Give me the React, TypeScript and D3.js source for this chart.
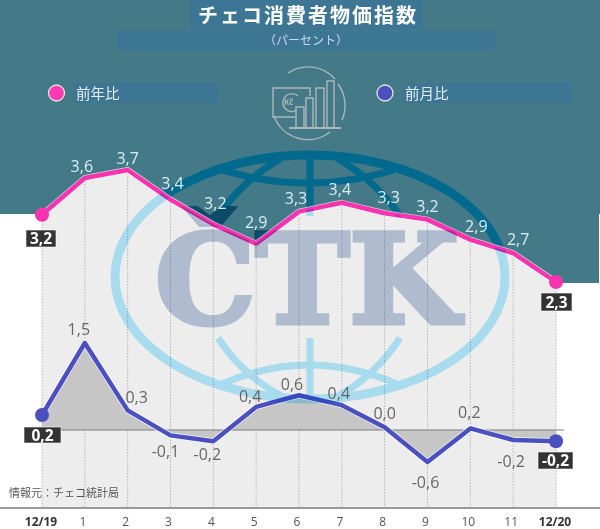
import React from "react";
import * as d3 from "d3";

const W = 600;
const H = 529;

// Months along the axis
const months = ["12/19", "1", "2", "3", "4", "5", "6", "7", "8", "9", "10", "11", "12/20"];

// Year on year: printed labels and the heights
const yoyLabels = ["3,2", "3,6", "3,7", "3,4", "3,2", "2,9", "3,3", "3,4", "3,3", "3,2", "2,9", "2,7", "2,3"];
const yoyValues = [3.14, 3.6, 3.7, 3.33, 3.02, 2.78, 3.18, 3.29, 3.16, 3.08, 2.83, 2.66, 2.3];

// Month on month
const momLabels = ["0,2", "1,5", "0,3", "-0,1", "-0,2", "0,4", "0,6", "0,4", "0,0", "-0,6", "0,2", "-0,2", "-0,2"];
const momValues = [0.26, 1.5, 0.34, -0.09, -0.19, 0.4, 0.6, 0.43, 0.05, -0.55, 0.03, -0.17, -0.19];

// Label nudges relative to the point (pixels)
const yoyLabelDx = [0, -3, 0, 2, 2, 0, -3, -2, 4, 0, 6, 5, 0];
const yoyLabelDy = [0, -6, -6, -11, -15, -16, -8, -8, -10, -8, -8, -8, 0];
const momLabelDx = [0, -6, 9, -5, -6, -6, -7, -3, 0, -2, -1, -2, 0];
const momLabelDy = [0, -8, -7, 22, 19, -5, -5, -6, -8, 26, -10, 27, 0];

const TEAL = "#447a88";
const BLOCK = "#3d7694";
const PLOT = "#ededed";
const PINK = "#f932b0";
const BLUE = "#4a50c0";
const SANS = "'Open Sans', sans-serif";
const CJK = "'Noto Sans CJK JP', sans-serif";

const x = d3.scalePoint<string>().domain(months).range([42, 556]);
const yTop = d3.scaleLinear().domain([2.3, 3.7]).range([282, 170]);
const yBottom = d3.scaleLinear().domain([-0.6, 1.5]).range([465, 343]);
const AXIS_Y = 508;
const ZERO_Y = 430;

const yoyLine = d3
  .line<number>()
  .x((_, i) => x(months[i])!)
  .y((d) => yTop(d));
const momLine = d3
  .line<number>()
  .x((_, i) => x(months[i])!)
  .y((d) => yBottom(d));
const plotArea = d3
  .area<number>()
  .x((_, i) => x(months[i])!)
  .y0(AXIS_Y)
  .y1((d) => yTop(d));
const momArea = d3
  .area<number>()
  .x((_, i) => x(months[i])!)
  .y0(ZERO_Y)
  .y1((d) => yBottom(d));

// Globe with the agency letters behind the chart
function Logo({ ring, letters }: { ring: string; letters: string }) {
  return (
    <g fill="none" stroke={ring}>
      <ellipse cx={310} cy={277} rx={195} ry={122} strokeWidth={9} />
      <path d="M222 170Q309 196 394 170" strokeWidth={7} />
      <path d="M280 159Q243 180 218 216" strokeWidth={7} />
      <path d="M338 159Q375 180 400 216" strokeWidth={7} />
      <path d="M310 155V216" strokeWidth={7} />
      <path d="M222 384Q309 346 397 384" strokeWidth={7} />
      <path d="M218 338Q243 376 282 396" strokeWidth={7} />
      <path d="M400 338Q375 376 338 396" strokeWidth={7} />
      <path d="M310 338V400" strokeWidth={7} />
      <text
        x={155}
        y={323}
        fill={letters}
        stroke={letters}
        strokeWidth={5}
        fontFamily="'DejaVu Serif', serif"
        fontWeight={700}
        fontSize={124}
        textLength={304}
        lengthAdjust="spacingAndGlyphs"
      >
        ČTK
      </text>
    </g>
  );
}

function EndLabel({ text, x0, x1, y0, y1 }: { text: string; x0: number; x1: number; y0: number; y1: number }) {
  return (
    <g>
      <rect x={x0} y={y0} width={x1 - x0} height={y1 - y0} fill="#333" stroke="#fff" strokeOpacity={0.6} />
      <text
        x={(x0 + x1) / 2}
        y={(y0 + y1) / 2 + 5.5}
        textAnchor="middle"
        fill="#fff"
        fontFamily={SANS}
        fontWeight={700}
        fontSize={15.5}
      >
        {text}
      </text>
    </g>
  );
}

export default function App() {
  const last = months.length - 1;
  return (
    <svg width={W} height={H} style={{ position: "absolute", left: 0, top: 0, display: "block" }}>
      <defs>
        <clipPath id="under-line">
          <path d={plotArea(yoyValues)!} />
        </clipPath>
      </defs>
      <rect width={W} height={H} fill="#fff" />
      <rect x={0} y={0} width={W} height={214} fill={TEAL} />
      <rect x={42} y={0} width={557} height={283} fill={TEAL} />
      <Logo ring="#006a8e" letters="#0b4a68" />

      {/* plot background follows the upper line */}
      <path d={plotArea(yoyValues)!} fill={PLOT} />

      {months.map((m, i) => (
        <line
          key={m}
          x1={x(m)}
          x2={x(m)}
          y1={yTop(yoyValues[i])}
          y2={AXIS_Y}
          stroke="#b5b5b5"
          strokeWidth={1}
          strokeDasharray="1.5 1.5"
        />
      ))}

      <path d={momArea(momValues)!} fill="#c6c6c6" />
      <line x1={42} x2={564} y1={ZERO_Y} y2={ZERO_Y} stroke="#7d7d7d" strokeWidth={1.2} />
      <line x1={0} x2={W} y1={AXIS_Y} y2={AXIS_Y} stroke="#9a9a9a" strokeWidth={2} />

      {/* lines */}
      <path d={yoyLine(yoyValues)!} fill="none" stroke="#fff" strokeOpacity={0.7} strokeWidth={6} strokeLinejoin="round" />
      <path d={yoyLine(yoyValues)!} fill="none" stroke={PINK} strokeWidth={4.5} strokeLinejoin="round" />
      <path d={momLine(momValues)!} fill="none" stroke="#fff" strokeOpacity={0.8} strokeWidth={6} strokeLinejoin="round" />
      <path d={momLine(momValues)!} fill="none" stroke={BLUE} strokeWidth={4.5} strokeLinejoin="round" />

      {[0, last].map((i) => (
        <g key={i}>
          <circle cx={x(months[i])} cy={yTop(yoyValues[i])} r={7} fill={PINK} />
          <circle cx={x(months[i])} cy={yBottom(momValues[i])} r={7} fill={BLUE} />
        </g>
      ))}

      {/* the watermark tints whatever lies under it inside the plot */}
      <g clipPath="url(#under-line)" style={{ mixBlendMode: "multiply" }}>
        <Logo ring="#b4ecff" letters="#bdcbdf" />
      </g>

      {/* title */}
      <rect x={190} y={0} width={232} height={30} fill={BLOCK} />
      <rect x={117} y={31} width={378} height={19} fill={BLOCK} />
      <text x={308} y={23.3} textAnchor="middle" fill="#fff" fontFamily={CJK} fontWeight={700} fontSize={20} letterSpacing={2}>
        チェコ消費者物価指数
      </text>
      <text x={306} y={44.5} textAnchor="middle" fill="#c9dce2" fontFamily={CJK} fontSize={12}>
        （パーセント）
      </text>

      {/* legend */}
      <rect x={74} y={83} width={144} height={20} fill={BLOCK} />
      <rect x={403} y={83} width={169} height={20} fill={BLOCK} />
      <circle cx={56.5} cy={93} r={8} fill="#ff3cb4" stroke="#e4e4e4" strokeWidth={1.3} />
      <circle cx={385} cy={93} r={8} fill={BLUE} stroke="#e4e4e4" strokeWidth={1.3} />
      <text x={76} y={99} fill="#e6eef0" fontFamily={CJK} fontSize={14.5}>
        前年比
      </text>
      <text x={405} y={99} fill="#e6eef0" fontFamily={CJK} fontSize={14.5}>
        前月比
      </text>

      {/* icon */}
      <g fill="none" stroke="#aeb6ba" strokeWidth={1.4}>
        <path d="M288 73A36 36 0 0 1 335 79" />
        <path d="M338 84A36 36 0 0 1 342 120" />
        <path d="M330 132A36 36 0 0 1 274 116" />
        <path d="M295 117H273V88H310V96" />
        <path d="M296 128V107H304V128M306 128V98H313V128M316 128V88H324V128M327 128V81H334V128" />
        <path d="M289 128H341" strokeWidth={2} />
        <path d="M297 110A9 9 0 1 1 298 96" />
        <text x={284} y={105} fill="#aeb6ba" stroke="none" fontFamily={SANS} fontWeight={700} fontSize={8}>
          Kč
        </text>
      </g>

      {/* value labels */}
      {yoyLabels.map((label, i) =>
        i === 0 || i === last ? null : (
          <text
            key={i}
            x={x(months[i])! + yoyLabelDx[i]}
            y={yTop(yoyValues[i]) + yoyLabelDy[i]}
            textAnchor="middle"
            fill="#d8edf3"
            fontFamily={SANS}
            fontSize={16}
          >
            {label}
          </text>
        )
      )}
      {momLabels.map((label, i) =>
        i === 0 || i === last ? null : (
          <text
            key={i}
            x={x(months[i])! + momLabelDx[i]}
            y={yBottom(momValues[i]) + momLabelDy[i]}
            textAnchor="middle"
            fill="#666"
            fontFamily={SANS}
            fontSize={16}
          >
            {label}
          </text>
        )
      )}

      <EndLabel text={yoyLabels[0]} x0={26} x1={56} y0={230} y1={247} />
      <EndLabel text={momLabels[0]} x0={24} x1={61} y0={427} y1={443} />
      <EndLabel text={yoyLabels[last]} x0={541} x1={572} y0={293} y1={311} />
      <EndLabel text={momLabels[last]} x0={538} x1={573} y0={452} y1={469} />

      <text x={9} y={497} fill="#555" fontFamily={CJK} fontSize={11}>
        情報元：チェコ統計局
      </text>

      {/* month labels */}
      {months.map((m, i) => {
        const end = i === 0 || i === last;
        return (
          <text
            key={m}
            x={x(m)! - (end ? 1 : 2)}
            y={526}
            textAnchor="middle"
            fill={end ? "#333" : "#555"}
            fontFamily={SANS}
            fontWeight={end ? 700 : 400}
            fontSize={12}
          >
            {m}
          </text>
        );
      })}
    </svg>
  );
}
